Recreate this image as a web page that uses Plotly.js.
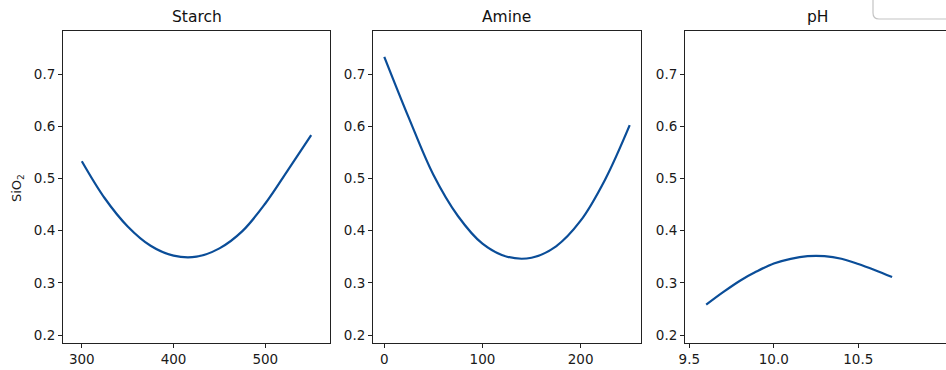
<!DOCTYPE html>
<html>
<head>
<meta charset="utf-8">
<script src="https://cdn.plot.ly/plotly-3.0.1.min.js"></script>
<style>html,body{margin:0;padding:0;background:#fff;}#chart{width:946px;height:370px;}</style>
</head>
<body>
<div id="chart"></div>
<script>
// Data
const panelTitles = ["Starch", "Amine", "pH"];
const yAxisLabel = "SiO<sub>2</sub>";

const starchX = [300, 325, 350, 375, 400, 425, 450, 475, 500, 525, 550];
const starchY = [0.533, 0.462, 0.408, 0.371, 0.352, 0.350, 0.366, 0.399, 0.452, 0.517, 0.583];

const amineX = [0, 25, 50, 75, 100, 125, 150, 175, 200, 225, 250];
const amineY = [0.733, 0.616, 0.507, 0.428, 0.375, 0.350, 0.348, 0.370, 0.419, 0.498, 0.602];

const phX = [9.6, 9.7, 9.8, 9.9, 10.0, 10.1, 10.2, 10.3, 10.4, 10.5, 10.6, 10.7];
const phY = [0.258, 0.282, 0.304, 0.322, 0.337, 0.346, 0.351, 0.351, 0.346, 0.336, 0.324, 0.311];

const starchTicks = [300, 400, 500];
const starchTickText = ["300", "400", "500"];
const amineTicks = [0, 100, 200];
const amineTickText = ["0", "100", "200"];
const phTicks = [9.5, 10.0, 10.5];
const phTickText = ["9.5", "10.0", "10.5"];
const yTicks = [0.2, 0.3, 0.4, 0.5, 0.6, 0.7];
const yTickText = ["0.2", "0.3", "0.4", "0.5", "0.6", "0.7"];

const W = 946, H = 370;
const lineColor = '#0a4d98';
const axisColor = '#222';
const fontFam = '"DejaVu Sans", sans-serif';

function line(x, y, xa, ya) {
  return { x: x, y: y, xaxis: xa, yaxis: ya, type: 'scatter', mode: 'lines',
           line: { color: lineColor, width: 2.2, shape: 'spline', smoothing: 1 },
           showlegend: false, hoverinfo: 'skip' };
}

const data = [
  line(starchX, starchY, 'x', 'y'),
  line(amineX, amineY, 'x2', 'y2'),
  line(phX, phY, 'x3', 'y3')
];

const yDom = [27 / H, 339 / H];
const yRange = [0.1847, 0.7824];
const tickFont = { family: fontFam, size: 13.5, color: '#1a1a1a' };

function xAxis(dom, range, tv, tt, mirror) {
  return { domain: dom, range: range, tickvals: tv, ticktext: tt,
           showgrid: false, zeroline: false, showline: true, linecolor: axisColor, linewidth: 1,
           mirror: mirror, ticks: 'outside', ticklen: 4, tickcolor: axisColor,
           tickfont: tickFont, fixedrange: true };
}
function yAxis(anchor, mirror) {
  return { domain: yDom, range: yRange, anchor: anchor, tickvals: yTicks, ticktext: yTickText,
           showgrid: false, zeroline: false, showline: true, linecolor: axisColor, linewidth: 1,
           mirror: mirror, ticks: 'outside', ticklen: 4, tickcolor: axisColor,
           tickfont: tickFont, fixedrange: true };
}

const p = v => v / W;
const q = v => 1 - v / H;
const titleFont = { family: fontFam, size: 15.5, color: '#111' };

const layout = {
  width: W, height: H,
  margin: { l: 0, r: 0, t: 0, b: 0 },
  paper_bgcolor: '#fff', plot_bgcolor: '#fff',
  showlegend: false,
  xaxis: xAxis([63 / W, 330 / W], [279.5, 570.5], starchTicks, starchTickText, true),
  yaxis: yAxis('x', true),
  xaxis2: xAxis([373 / W, 641 / W], [-11.5, 261.5], amineTicks, amineTickText, true),
  yaxis2: yAxis('x2', true),
  xaxis3: xAxis([685 / W, 1], [9.4746, 11.019], phTicks, phTickText, true),
  yaxis3: yAxis('x3', false),
  annotations: [
    { text: panelTitles[0], x: p(196.5), y: q(17), xref: 'paper', yref: 'paper', showarrow: false,
      font: titleFont, xanchor: 'center', yanchor: 'middle' },
    { text: panelTitles[1], x: p(507), y: q(17), xref: 'paper', yref: 'paper', showarrow: false,
      font: titleFont, xanchor: 'center', yanchor: 'middle' },
    { text: panelTitles[2], x: p(818), y: q(17), xref: 'paper', yref: 'paper', showarrow: false,
      font: titleFont, xanchor: 'center', yanchor: 'middle' },
    { text: yAxisLabel, x: p(17), y: q(188), xref: 'paper', yref: 'paper', showarrow: false,
      textangle: -90, font: { family: fontFam, size: 13, color: '#1a1a1a' }, xanchor: 'center', yanchor: 'middle' }
  ],
  shapes: [
    { type: 'path', xref: 'paper', yref: 'paper',
      path: `M ${p(873)} ${q(-2)} L ${p(873)} ${q(13)} Q ${p(873)} ${q(19)} ${p(879)} ${q(19)} L ${p(950)} ${q(19)}`,
      line: { color: '#c4c4c4', width: 1.2 } }
  ]
};

Plotly.newPlot('chart', data, layout, { staticPlot: true, displayModeBar: false });
</script>
</body>
</html>
